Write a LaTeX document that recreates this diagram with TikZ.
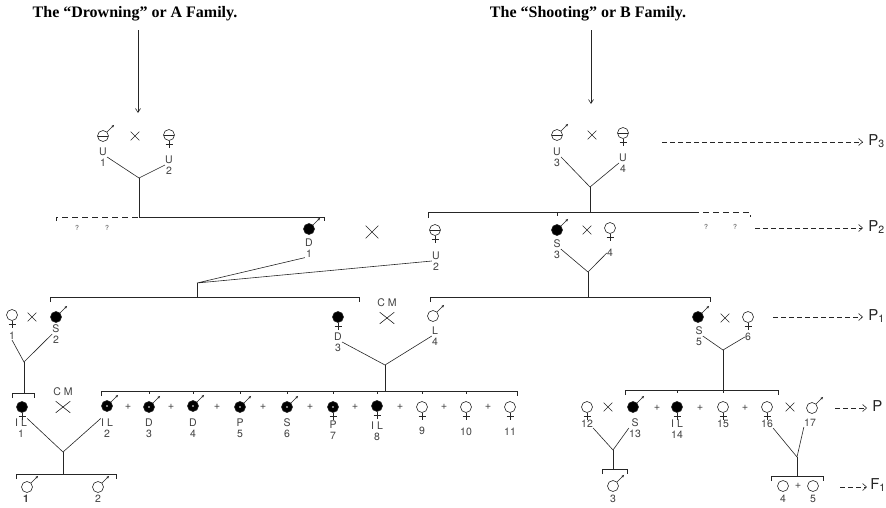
\documentclass[tikz,border=0pt]{standalone}
\usepackage{fontspec}
\setmainfont{Liberation Serif}
\setsansfont{TeX Gyre Heros}
\usetikzlibrary{arrows.meta,shapes.misc}

\tikzset{
  sym/.style={circle, draw, inner sep=0pt, minimum size=11pt},
  aff/.style={sym, fill=black},
  unk/.style={sym, path picture={\draw (path picture bounding box.west) -- (path picture bounding box.east);}},
  spot/.style={aff, path picture={\fill[white] (path picture bounding box.center) circle (0.9pt);}},
  lab/.style={font=\fontsize{10.5}{11}\selectfont\sffamily, text=black!75, align=center, inner sep=0pt},
  qlab/.style={font=\fontsize{7}{7}\selectfont\sffamily, text=black!70, inner sep=0pt},
  mate/.style={draw, cross out, minimum size=8pt, inner sep=0pt},
  bigmate/.style={draw, cross out, minimum width=14pt, minimum height=11pt, inner sep=0pt},
  plus/.style={font=\fontsize{11}{11}\selectfont\sffamily, text=black!75, inner sep=0pt},
  gen/.style={dash pattern=on 5pt off 3pt, -{Straight Barb[length=4pt,width=7pt]}},
  unsure/.style={dash pattern=on 6pt off 4pt},
  genlab/.style={font=\fontsize{15}{15}\selectfont\sffamily, anchor=west, inner sep=0pt},
  title/.style={font=\fontsize{16}{16}\selectfont\bfseries, text=black},
}

\begin{document}
\begin{tikzpicture}[x=1pt, y=-1pt, line width=0.6pt, color=black!85]
  \useasboundingbox (0,0) rectangle (886,507);

  % the two families
  \node[title] (tA) at (135,14) {The “Drowning” or A Family.};
  \node[title] (tB) at (588,14) {The “Shooting” or B Family.};
  \coordinate (inA) at (138,113);
  \coordinate (inB) at (591,104);
  \draw[-{Straight Barb[length=4pt,width=5pt]}] (138,30) -- (inA);
  \draw[-{Straight Barb[length=4pt,width=5pt]}] (591,30) -- (inB);

  % P3: U1 x U2 and U3 x U4
  \node[unk] (u1) at (103,136) {};
  \node[lab] (u1l) at (103,157) {U\\1};
  \node[mate] (x1) at (135,136) {};
  \node[unk] (u2) at (169,135) {};
  \node[lab] (u2l) at (169,165) {U\\2};
  \coordinate (jA) at (139,178);
  \draw (u1l.east) -- (jA) -- (u2l.west);
  \draw (jA) -- (139,217);

  \node[unk] (u3) at (557,135) {};
  \node[lab] (u3l) at (557,157) {U\\3};
  \node[mate] (x2) at (592,135) {};
  \node[unk] (u4) at (623,133) {};
  \node[lab] (u4l) at (623,163) {U\\4};
  \coordinate (jB) at (590,187);
  \draw (u3l.east) -- (jB) -- (u4l.west);
  \draw (jB) -- (590,212);

  \draw[gen] (662,142) -- (863,142);
  \node[genlab] (p3) at (868,141) {P\textsubscript{3}};

  % sibships of P3
  \draw[unsure] (56,221) -- (56,217) -- (139,217);
  \draw (139,217) -- (324,217) -- (324,221);
  \node[qlab] (q1) at (77,228) {?};
  \node[qlab] (q2) at (107,228) {?};
  \draw (428,218) -- (428,212) -- (693,212);
  \draw (557,212) -- (557,216);
  \draw[unsure] (693,212) -- (750,212) -- (750,217);
  \node[qlab] (q3) at (706,227) {?};
  \node[qlab] (q4) at (735,227) {?};

  % P2: D1 x U2 and S3 x 4
  \node[aff] (d1) at (309,229) {};
  \node[lab] (d1l) at (309,248) {D\\1};
  \node[mate, minimum size=12pt] (x3) at (372,232) {};
  \node[unk] (u2b) at (435,230) {};
  \node[lab] (u2bl) at (436,261) {U\\2};
  \coordinate (jC) at (197,283);
  \draw (d1l.south west) -- (jC) -- (u2bl.west);
  \draw (jC) -- (197,297);

  \node[aff] (s3) at (557,230) {};
  \node[lab] (s3l) at (557,249) {S\\3};
  \node[mate] (x4) at (587,230) {};
  \node[sym] (f4) at (610,228) {};
  \node[lab] (f4l) at (610,253) {4};
  \coordinate (jD) at (588,272);
  \draw (s3l.east) -- (jD) -- (f4l.west);
  \draw (jD) -- (588,297);

  \draw[gen] (755,228) -- (863,228);
  \node[genlab] (p2) at (868,227) {P\textsubscript{2}};

  % sibships of P2
  \draw (50,302) -- (50,297) -- (359,297) -- (359,302);
  \draw (430,302) -- (430,297) -- (710,297) -- (710,302);

  % P1: 1 x S2, D3 x L4, S5 x 6
  \node[sym] (f1) at (12,315) {};
  \node[lab] (f1l) at (12,336) {1};
  \node[mate] (x5) at (32,317) {};
  \node[aff] (s2) at (56,317) {};
  \node[lab] (s2l) at (56,334) {S\\2};
  \coordinate (jE) at (24,362);
  \draw (f1l.south) -- (jE) -- (s2l.west);
  \draw (jE) -- (24,393);
  \draw (12,398) -- (12,393) -- (34,393) -- (34,398);

  \node[aff] (d3) at (338,317) {};
  \node[lab] (d3l) at (338,342) {D\\3};
  \node[lab] (cm1) at (387,303) {C M};
  \node[bigmate] (x6) at (387,318) {};
  \node[sym] (l4) at (433,316) {};
  \node[lab] (l4l) at (435,336) {L\\4};
  \coordinate (jF) at (385,365);
  \draw (d3l.east) -- (jF) -- (l4l.west);
  \draw (jF) -- (385,391);
  \draw (101,396) -- (101,391) -- (517,391) -- (517,396);
  \foreach \x in {149,193,240,287,333,377,422,466}
    \draw (\x,391) -- ++(0,3);

  \node[aff] (s5) at (698,317) {};
  \node[lab] (s5l) at (699,336) {S\\5};
  \node[mate] (x7) at (725,318) {};
  \node[sym] (f6) at (748,317) {};
  \node[lab] (f6l) at (748,337) {6};
  \coordinate (jG) at (723,350);
  \draw (s5l.east) -- (jG) -- (f6l.west);
  \draw (jG) -- (723,390);
  \draw (625,395) -- (625,390) -- (778,390) -- (778,395);
  \foreach \x in {677,723}
    \draw (\x,390) -- ++(0,3);

  \draw[gen] (773,317) -- (863,317);
  \node[genlab] (p1) at (868,316) {P\textsubscript{1}};

  % P: IL1 x IL2 and the offspring of D3 x L4
  \node[aff] (il1) at (22,407) {};
  \node[lab] (il1l) at (21,428) {I L\\1};
  \node[lab] (cm2) at (63,392) {C M};
  \node[bigmate] (x8) at (63,407) {};
  \node[spot] (c2) at (107,406) {};
  \node[lab] (c2l) at (107,428) {I L\\2};
  \node[plus] (a1) at (128,407) {+};
  \node[spot] (c3) at (149,407) {};
  \node[lab] (c3l) at (149,428) {D\\3};
  \node[plus] (a2) at (171,407) {+};
  \node[spot] (c4) at (193,406) {};
  \node[lab] (c4l) at (193,428) {D\\4};
  \node[plus] (a3) at (217,407) {+};
  \node[spot] (c5) at (240,407) {};
  \node[lab] (c5l) at (240,428) {P\\5};
  \node[plus] (a4) at (263,407) {+};
  \node[spot] (c6) at (287,407) {};
  \node[lab] (c6l) at (287,428) {S\\6};
  \node[plus] (a5) at (310,407) {+};
  \node[spot] (c7) at (333,407) {};
  \node[lab] (c7l) at (333,430) {P\\7};
  \node[plus] (a6) at (355,407) {+};
  \node[aff] (c8) at (377,406) {};
  \node[lab] (c8l) at (377,431) {I L\\8};
  \node[plus] (a7) at (400,407) {+};
  \node[sym] (c9) at (422,407) {};
  \node[lab] (c9l) at (422,431) {9};
  \node[plus] (a8) at (444,407) {+};
  \node[sym] (c10) at (466,407) {};
  \node[lab] (c10l) at (466,432) {10};
  \node[plus] (a9) at (488,407) {+};
  \node[sym] (c11) at (510,407) {};
  \node[lab] (c11l) at (510,432) {11};

  \coordinate (jH) at (63,452);
  \draw (il1l.north east) -- (jH) -- (c2l.north west);
  \draw (jH) -- (63,474);
  \draw (16,479) -- (16,474) -- (116,474) -- (116,479);
  \node[sym] (g1) at (27,487) {};
  \node[lab] (g1l) at (26,499) {\bfseries 1};
  \node[sym] (g2) at (98,487) {};
  \node[lab] (g2l) at (98,499) {2};

  % P: offspring of S5 x 6
  \node[sym] (f12) at (587,407) {};
  \node[lab] (f12l) at (587,424) {12};
  \node[mate] (x9) at (608,407) {};
  \node[aff] (s13) at (633,407) {};
  \node[lab] (s13l) at (635,428) {S\\13};
  \node[plus] (b1) at (657,408) {+};
  \node[aff] (f14) at (677,407) {};
  \node[lab] (f14l) at (677,429) {I L\\14};
  \node[plus] (b2) at (700,408) {+};
  \node[sym] (f15) at (723,407) {};
  \node[lab] (f15l) at (723,424) {15};
  \node[plus] (b3) at (745,408) {+};
  \node[sym] (f16) at (767,407) {};
  \node[lab] (f16l) at (767,424) {16};
  \node[mate] (x10) at (790,407) {};
  \node[sym] (m17) at (812,408) {};
  \node[lab] (m17l) at (810,423) {17};

  \draw[gen] (835,408) -- (867,408);
  \node[genlab] (p0) at (872,406) {P};

  \coordinate (jI) at (613,450);
  \draw (f12l.south east) -- (jI) -- (s13l.west);
  \draw (jI) -- (613,469);
  \draw (602,474) -- (602,469) -- (627,469) -- (627,474);
  \node[sym] (g3) at (613,486) {};
  \node[lab] (g3l) at (613,499) {3};

  \coordinate (jJ) at (797,457);
  \draw (f16l.south east) -- (jJ) -- (m17l.south west);
  \draw (jJ) -- (797,476);
  \draw (771,481) -- (771,476) -- (823,476) -- (823,481);
  \node[sym] (g4) at (783,486) {};
  \node[lab] (g4l) at (783,499) {4};
  \node[plus] (b4) at (798,486) {+};
  \node[sym] (g5) at (813,486) {};
  \node[lab] (g5l) at (813,499) {5};

  \draw[gen] (840,487) -- (867,487);
  \node[genlab] (f1g) at (870,485) {F\textsubscript{1}};

  % sex marks
  \foreach \n in {u1,u3,d1,s3,s2,l4,s5,c2,c3,c4,c5,c6,s13,m17,g1,g2,g3}
    \draw[-{Stealth[length=3pt,width=2.5pt]}] (\n.45) -- ++(7,-7);
  \foreach \n in {u2,u4,u2b,f4,f1,d3,f6,il1,c7,c8,c9,c10,c11,f12,f14,f15,f16}
    \draw (\n.south) -- ++(0,7) ++(-3.5,-3.5) -- ++(7,0);
\end{tikzpicture}
\end{document}
